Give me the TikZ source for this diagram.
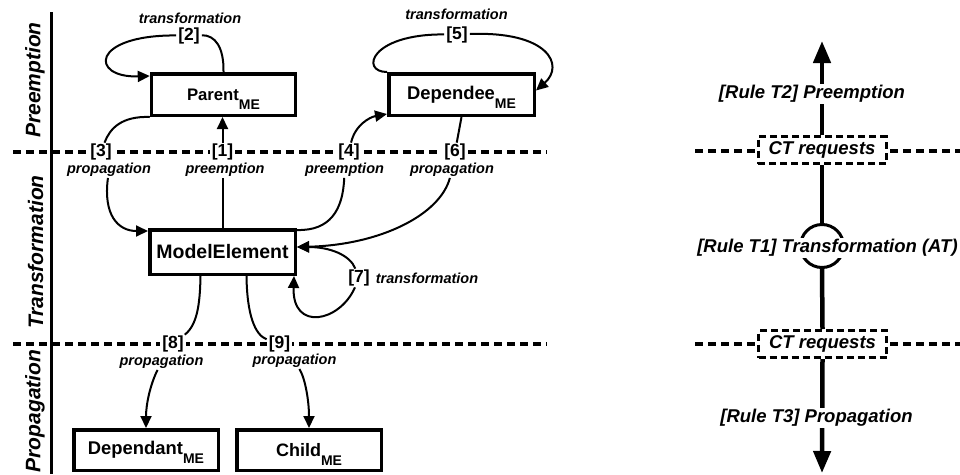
\documentclass[tikz,border=0pt]{standalone}
\usepackage{fontspec}
\setmainfont{Liberation Sans}
\usetikzlibrary{arrows.meta,calc}

% lowered "ME" index used in the element names
\newcommand\mesub{\raisebox{-9pt}[0pt][0pt]{\fontsize{14}{16}\selectfont ME}}

\tikzset{
  elem/.style={draw, line width=3.5pt, inner sep=0pt, minimum width=144pt, minimum height=41.5pt},
  tag/.style={fill=white, inner xsep=2pt, inner ysep=1pt, font=\fontsize{17.5}{20}\selectfont\bfseries},
  kind/.style={fill=white, inner sep=1pt, font=\fontsize{14.5}{16}\selectfont\bfseries\itshape},
  link/.style={line width=2pt},
  flow/.style={line width=2pt, -{Triangle[length=12pt,width=11pt]}},
  divider/.style={line width=4pt, dash pattern=on 7.5pt off 5.5pt},
  phase/.style={rotate=90, inner sep=0pt, font=\fontsize{21}{24}\selectfont\bfseries\itshape},
  rule/.style={fill=white, inner xsep=1pt, inner ysep=1pt, font=\fontsize{18.5}{22}\selectfont\bfseries\itshape},
  request/.style={draw, fill=white, line width=3pt, dash pattern=on 7pt off 4pt,
    minimum width=128pt, minimum height=27pt, inner sep=0pt,
    font=\fontsize{18.5}{22}\selectfont\bfseries\itshape},
  axis/.style={line width=4.5pt},
}

\begin{document}
\begin{tikzpicture}[x=1pt,y=-1pt]
\useasboundingbox (0,0) rectangle (960,474);

% ---------- phase separators ----------
\draw[divider] (13,152) -- (547,152);
\draw[divider] (13,344) -- (547,344);
\draw[line width=3.5pt] (51.5,12) -- (51.5,474);

\node[phase] (phPre) at (35,80) {Preemption};
\node[phase] (phTra) at (35.5,252) {Transformation};
\node[phase] (phPro) at (35,411) {Propagation};

% ---------- elements ----------
\node[elem, font=\fontsize{16.7}{19}\selectfont\bfseries] (parent) at (223.5,94.5) {Parent\mesub};
\node[elem, minimum width=145.5pt, font=\fontsize{18.4}{21}\selectfont\bfseries] (dependee) at (461.5,94.5) {Dependee\mesub};
\node[elem, minimum width=145.5pt, minimum height=44.5pt, font=\fontsize{19.5}{22}\selectfont\bfseries] (me) at (222.5,252) {ModelElement};
\node[elem, minimum width=144.5pt, minimum height=40.5pt, font=\fontsize{18.4}{21}\selectfont\bfseries] (dependant) at (146,450) {Dependant\mesub};
\node[elem, minimum width=144.5pt, minimum height=40.5pt, font=\fontsize{18}{21}\selectfont\bfseries] (child) at (309,450) {Child\mesub};

% ---------- numbered labels ----------
\node[tag] (l1) at (222.5,152) {[1]};
\node[kind] (p1) at (225,170) {preemption};
\node[tag, inner ysep=0pt] (l2) at (189,35.5) {[2]};
\node[kind, inner ysep=0pt] (t2) at (190,18.5) {transformation};
\node[tag] (l3) at (101,152) {[3]};
\node[kind] (p3) at (109,170) {propagation};
\node[tag] (l4) at (349,152) {[4]};
\node[kind] (p4) at (344.5,170) {preemption};
\node[tag, inner ysep=0pt] (l5) at (457,34.5) {[5]};
\node[kind, inner ysep=0pt] (t5) at (456.5,14) {transformation};
\node[tag] (l6) at (455,152) {[6]};
\node[kind] (p6) at (452,170) {propagation};
\node[tag] (l7) at (359,278) {[7]};
\node[kind] (t7) at (427,278) {transformation};
\node[tag] (l8) at (173,344) {[8]};
\node[kind] (p8) at (161.5,362) {propagation};
\node[tag] (l9) at (279.5,344) {[9]};
\node[kind] (p9) at (294.5,361) {propagation};

% ---------- connectors ----------
% [1] preemption
\draw[link] (me.north) -- (p1.south -| me.north);
\draw[flow] (l1.north -| me.north) -- (me.north |- parent.south);
% [2] transformation loop on Parent
\draw[link] (parent.north) .. controls (224,47) and (215,35) .. (l2);
\draw[flow] (l2) .. controls (90,35) and (90,78) .. ($(parent.north west)+(0,4)$);
% [3] propagation
\draw[link] (parent.south west) .. controls (122,116) and (110,128) .. (l3);
\draw[flow] (p3) .. controls (103,215) and (118,231) .. ($(me.north west)+(0,3)$);
% [4] preemption
\draw[link] ($(me.north east)+(0,2)$) .. controls (330,231) and (343,210) .. (p4);
\draw[flow] (l4) .. controls (355,125) and (370,117) .. ($(dependee.south west)+(0,-3)$);
% [5] transformation loop on Dependee
\draw[link] (dependee.north west) .. controls (360,72) and (370,34) .. (l5);
\draw[flow] (l5) .. controls (548,31) and (565,65) .. ($(dependee.east)+(0,-4)$);
% [6] propagation
\draw[link] (dependee.south) -- (l6);
\draw[flow] (p6) .. controls (440,215) and (380,245) .. ($(me.east)+(0,-5)$);
% [7] transformation loop on ModelElement
\draw[flow] (l7) .. controls (350,255) and (330,247) .. ($(me.east)+(0,-5)$);
\draw[flow] (l7) .. controls (340,322) and (292,332) .. ($(me.south east)+(-3,0)$);
% [8] propagation
\draw[link] ($(me.south)+(-22,0)$) .. controls (200,305) and (197,325) .. (l8);
\draw[flow] (p8) .. controls (150,385) and (146,405) .. (dependant.north);
% [9] propagation
\draw[link] ($(me.south)+(24,0)$) .. controls (247,315) and (255,335) .. (l9);
\draw[flow] (p9) .. controls (305,378) and (309,400) .. (child.north);

% ---------- rule overview ----------
\draw[divider] (695,151) -- (960,151);
\draw[divider] (695,344) -- (960,344);
\coordinate (up) at (822,41);
\coordinate (down) at (822,473);
\node[request] (ct1) at (822,150) {CT requests};
\node[request] (ct2) at (822.5,344) {CT requests};
\node[circle, draw, line width=3pt, minimum size=43pt, inner sep=0pt] (ring) at (822,246) {};
\draw[axis, -{Triangle[length=22pt,width=17pt]}] (ct1.north) -- (up);
\draw[axis] (ct1.south) -- (ring.north);
\draw[axis] (ring.south) -- (ct2.north);
\draw[axis, -{Triangle[length=22pt,width=17pt]}] (ct2.south) -- (down);
\node[rule] (r2) at (812,94) {[Rule T2] Preemption};
\node[rule] (r1) at (827.5,248) {[Rule T1] Transformation (AT)};
\node[rule] (r3) at (816.5,418) {[Rule T3] Propagation};
\end{tikzpicture}
\end{document}
